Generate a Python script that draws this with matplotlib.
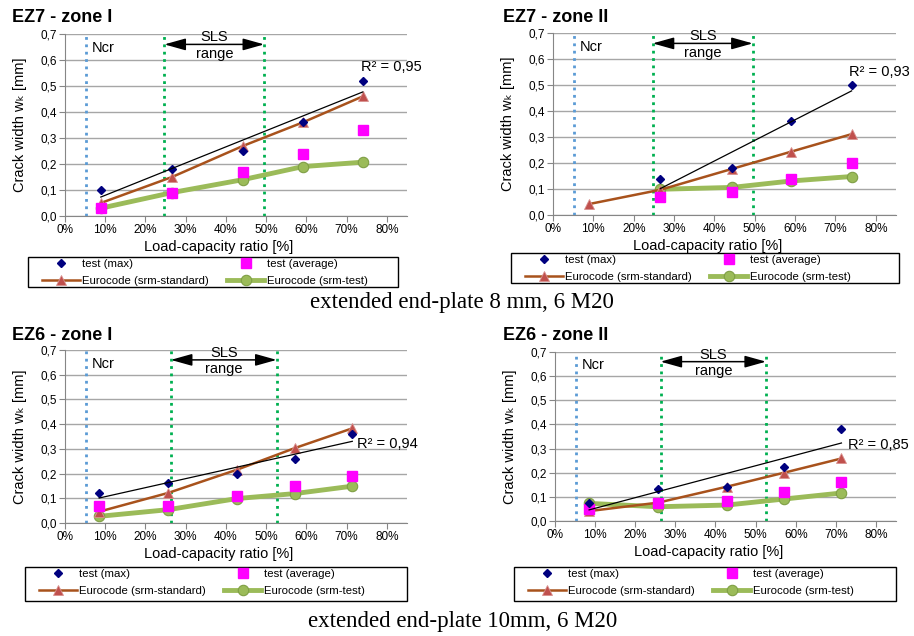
import numpy as np
import matplotlib
matplotlib.use("Agg")
import matplotlib.pyplot as plt
from matplotlib.patches import Rectangle
from matplotlib.lines import Line2D
from matplotlib.ticker import MultipleLocator, FuncFormatter, PercentFormatter

plt.rcParams["font.family"] = ["Liberation Sans", "DejaVu Sans"]

nan = np.nan

# load-capacity ratio of the load steps
LOAD_EZ7 = [0.089, 0.266, 0.443, 0.591, 0.740]
LOAD_EZ6 = [0.085, 0.257, 0.428, 0.571, 0.714]

NCR = 0.052
SLS_EZ7 = [0.247, 0.495]
SLS_EZ6 = [0.263, 0.526]

# crack widths [mm]
EZ7_I_MAX = [0.10, 0.18, 0.25, 0.36, 0.52]
EZ7_I_AVG = [0.03, 0.09, 0.17, 0.24, 0.33]
EZ7_I_STD = [0.05, 0.15, 0.27, 0.36, 0.46]
EZ7_I_SRM = [0.03, 0.09, 0.14, 0.19, 0.207]

EZ7_II_MAX = [nan, 0.14, 0.18, 0.36, 0.50]
EZ7_II_AVG = [nan, 0.07, 0.09, 0.14, 0.20]
EZ7_II_STD = [0.042, 0.097, 0.177, 0.244, 0.311]
EZ7_II_SRM = [nan, 0.099, 0.106, 0.131, 0.148]

EZ6_I_MAX = [0.12, 0.16, 0.20, 0.26, 0.36]
EZ6_I_AVG = [0.07, 0.07, 0.11, 0.15, 0.19]
EZ6_I_STD = [0.046, 0.122, 0.216, 0.303, 0.383]
EZ6_I_SRM = [0.027, 0.054, 0.099, 0.119, 0.149]

EZ6_II_MAX = [0.073, 0.131, 0.142, 0.222, 0.38]
EZ6_II_AVG = [0.048, 0.073, 0.084, 0.119, 0.161]
EZ6_II_STD = [0.041, 0.076, 0.142, 0.20, 0.259]
EZ6_II_SRM = [0.073, 0.059, 0.066, 0.091, 0.116]

TITLES = ["EZ7 - zone I", "EZ7 - zone II", "EZ6 - zone I", "EZ6 - zone II"]
R2_LABELS = ["R² = 0,95", "R² = 0,93", "R² = 0,94", "R² = 0,85"]
CAPTIONS = ["extended end-plate 8 mm, 6 M20", "extended end-plate 10mm, 6 M20"]
LEGEND_LABELS = ["test (max)", "Eurocode (srm-standard)",
                 "test (average)", "Eurocode (srm-test)"]

PANELS = [
    (LOAD_EZ7, SLS_EZ7, EZ7_I_MAX, EZ7_I_AVG, EZ7_I_STD, EZ7_I_SRM),
    (LOAD_EZ7, SLS_EZ7, EZ7_II_MAX, EZ7_II_AVG, EZ7_II_STD, EZ7_II_SRM),
    (LOAD_EZ6, SLS_EZ6, EZ6_I_MAX, EZ6_I_AVG, EZ6_I_STD, EZ6_I_SRM),
    (LOAD_EZ6, SLS_EZ6, EZ6_II_MAX, EZ6_II_AVG, EZ6_II_STD, EZ6_II_SRM),
]

# layout in pixels (figure is 914 x 636)
W, H = 914, 636
AXES_PX = [(65, 34, 407, 216), (553, 33, 896, 215),
           (65, 350, 407, 523), (555, 352, 896, 521)]
TITLE_PX = [(12, 18), (503, 18), (12, 335), (503, 335)]
LEGEND_PX = [(28, 257, 398, 287), (511, 253, 899, 283),
             (25, 567, 407, 601), (514, 567, 896, 601)]
R2_POS = [(0.735, 0.573), (0.734, 0.55), (0.726, 0.32), (0.73, 0.314)]
CAPTION_PX = [(462, 303), (463, 621)]

NAVY = "#00007F"
MAGENTA = "#FF00FF"
BROWN = "#A8521C"
TRI = "#C0504D"
GREEN = "#9BBB59"
GREEN_EDGE = "#7F9F45"
SLS_GREEN = "#00B050"
NCR_BLUE = "#5B9BD5"
GRID = "#A6A6A6"


def fx(x):
    return x / W


def fy(y):
    return 1 - y / H


fig = plt.figure(figsize=(W / 100, H / 100), dpi=100)
fig.patch.set_facecolor("white")

comma = FuncFormatter(lambda v, p: f"{v:.1f}".replace(".", ","))

for i, (load, sls, tmax, tavg, tstd, tsrm) in enumerate(PANELS):
    x0, y0, x1, y1 = AXES_PX[i]
    ax = fig.add_axes([fx(x0), fy(y1), (x1 - x0) / W, (y1 - y0) / H])
    load = np.array(load)

    ax.plot(load, tsrm, color=GREEN, lw=3.5, marker="o", ms=7.5,
            mfc=GREEN, mec=GREEN_EDGE, mew=0.8, zorder=3)
    ax.plot(load, tstd, color=BROWN, lw=1.8, marker="^", ms=6.5,
            mfc=TRI, mec="#D9918F", mew=0.6, zorder=4)
    ax.plot(load, tavg, ls="none", marker="s", ms=7, color=MAGENTA, zorder=5)
    ax.plot(load, tmax, ls="none", marker="D", ms=4.2, color=NAVY, zorder=6)

    # linear trend of test (max)
    ymax = np.array(tmax)
    ok = ~np.isnan(ymax)
    k, d = np.polyfit(load[ok], ymax[ok], 1)
    xt = np.array([load[ok][0], load[ok][-1]])
    ax.plot(xt, k * xt + d, color="black", lw=0.9, zorder=7)
    ax.text(R2_POS[i][0], R2_POS[i][1], R2_LABELS[i], fontsize=10.5,
            ha="left", va="center")

    ax.axvline(NCR, color=NCR_BLUE, ls=":", lw=2, zorder=2)
    for s in sls:
        ax.axvline(s, color=SLS_GREEN, ls=":", lw=2, zorder=2)
    ax.annotate("", xy=(sls[0], 0.66), xytext=(sls[1], 0.66),
                arrowprops=dict(arrowstyle="<|-|>,head_length=1.0,head_width=0.28",
                                color="black", lw=1.1, shrinkA=0, shrinkB=0,
                                mutation_scale=13), zorder=8)
    xm = (sls[0] + sls[1]) / 2
    ax.text(xm, 0.688, "SLS", fontsize=10.5, ha="center", va="center")
    ax.text(xm, 0.623, "range", fontsize=10.5, ha="center", va="center")
    ax.text(NCR + 0.014, 0.645, "Ncr", fontsize=10.5, ha="left", va="center")

    ax.set_xlim(0, 0.85)
    ax.set_ylim(0, 0.7)
    ax.xaxis.set_major_locator(MultipleLocator(0.1))
    ax.xaxis.set_major_formatter(PercentFormatter(xmax=1, decimals=0))
    ax.yaxis.set_major_locator(MultipleLocator(0.1))
    ax.yaxis.set_major_formatter(comma)
    ax.grid(True, axis="y", color=GRID, lw=1)
    ax.set_axisbelow(True)
    for side in ["top", "right"]:
        ax.spines[side].set_visible(False)
    for side in ["left", "bottom"]:
        ax.spines[side].set_color("#868686")
    ax.tick_params(axis="both", labelsize=8.5, length=4, width=0.8,
                   color="#868686", pad=2)
    ax.set_ylabel("Crack width wₖ [mm]", fontsize=10.5)
    ax.yaxis.set_label_coords(-45 / (x1 - x0), 0.5)
    ax.yaxis.label.set_va("center")
    ax.set_xlabel("Load-capacity ratio [%]", fontsize=10.5)
    ax.xaxis.set_label_coords(0.45, -31 / (y1 - y0))
    ax.xaxis.label.set_va("center")

    tx, ty = TITLE_PX[i]
    fig.text(fx(tx), fy(ty), TITLES[i], fontsize=13, fontweight="bold",
             ha="left", va="center")

    # legend with its own rectangular frame
    lx0, ly0, lx1, ly1 = LEGEND_PX[i]
    fig.patches.append(Rectangle((fx(lx0), fy(ly1)), (lx1 - lx0) / W,
                                 (ly1 - ly0) / H, transform=fig.transFigure,
                                 fill=False, edgecolor="black", lw=1))
    handles = [
        Line2D([], [], ls="none", marker="D", ms=4.2, color=NAVY),
        Line2D([], [], color=BROWN, lw=1.8, marker="^", ms=6.5, mfc=TRI,
               mec="#D9918F", mew=0.6),
        Line2D([], [], ls="none", marker="s", ms=7, color=MAGENTA),
        Line2D([], [], color=GREEN, lw=3.5, marker="o", ms=7.5, mfc=GREEN,
               mec=GREEN_EDGE, mew=0.8),
    ]
    fig.legend(handles, LEGEND_LABELS, loc="upper left",
               bbox_to_anchor=(fx(lx0 + 14), fy(ly0 + 2)), ncol=2,
               frameon=False, fontsize=8.2, handlelength=3.3,
               handletextpad=0.2, columnspacing=1.6, labelspacing=0.6,
               borderpad=0, borderaxespad=0)

for (cx, cy), cap in zip(CAPTION_PX, CAPTIONS):
    fig.text(fx(cx), fy(cy), cap, fontsize=16.5, family="Liberation Serif",
             ha="center", va="center")

fig.savefig("out.png", dpi=100)
